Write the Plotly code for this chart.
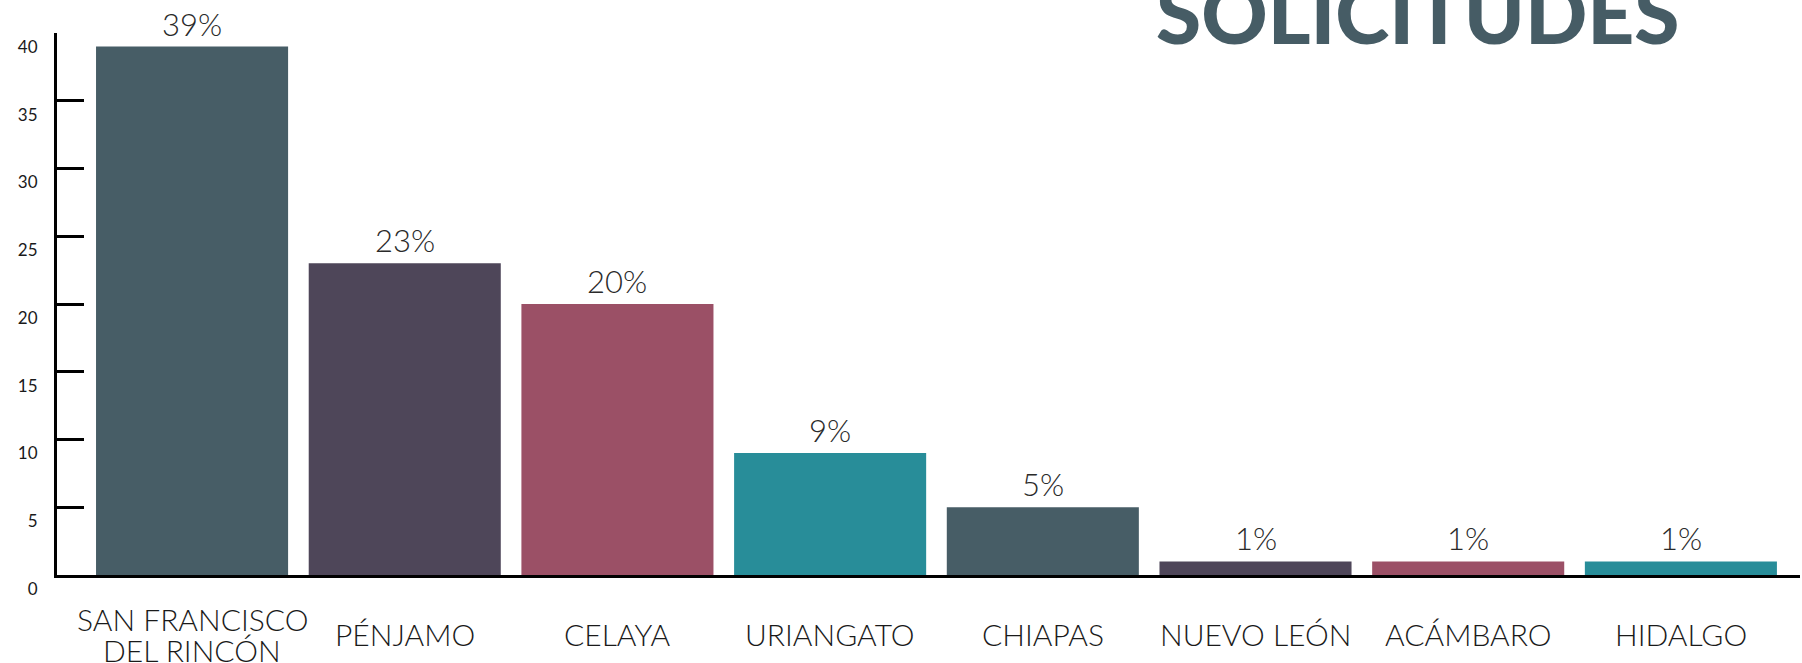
import plotly.graph_objects as go

categories = ["SAN FRANCISCO<br>DEL RINCÓN", "PÉNJAMO", "CELAYA", "URIANGATO",
              "CHIAPAS", "NUEVO LEÓN", "ACÁMBARO", "HIDALGO"]
values = [39, 23, 20, 9, 5, 1, 1, 1]
labels = ["39%", "23%", "20%", "9%", "5%", "1%", "1%", "1%"]
colors = ["#475d66", "#4e4659", "#9b5066", "#288d99",
          "#475d66", "#4e4659", "#9b5066", "#288d99"]
y_ticks = [0, 5, 10, 15, 20, 25, 30, 35, 40]
title_text = "SOLICITUDES"

xpos = list(range(len(categories)))

fig = go.Figure()
fig.add_trace(go.Bar(x=xpos, y=values, marker=dict(color=colors, line=dict(width=0)),
                     hoverinfo="skip"))

annotations = []
for i, (v, t) in enumerate(zip(values, labels)):
    annotations.append(dict(x=i, y=v, xref="x", yref="y", text=t, showarrow=False,
                            yanchor="bottom", yshift=2,
                            font=dict(family="Lato", size=31, color="#2a2a2a", weight=300)))
for i, c in enumerate(categories):
    lines = c.split("<br>")
    n = len(lines)
    for k, ln in enumerate(lines):
        annotations.append(dict(x=i, y=0, xref="x", yref="paper", text=ln, showarrow=False,
                                yanchor="middle", yshift=-59 - (k - (n - 1) / 2) * 31,
                                borderpad=0,
                                font=dict(family="Lato", size=30, color="#1a1a1a", weight=300)))
annotations.append(dict(x=(1682 - 57) / 1743, y=1, xref="paper", yref="paper",
                        text=title_text, showarrow=False, xanchor="right", yanchor="bottom",
                        yshift=-30,
                        font=dict(family="Lato", size=82, color="#465c65", weight=900)))

fig.update_layout(
    width=1802, height=663,
    margin=dict(l=57, r=2, t=33, b=88),
    paper_bgcolor="white", plot_bgcolor="white",
    bargap=0.097,
    showlegend=False,
    annotations=annotations,
)
fig.update_xaxes(range=[-0.635, 7.56], showticklabels=False, showgrid=False, zeroline=False,
                 showline=True, linecolor="black", linewidth=3, ticks="")
fig.update_yaxes(range=[0, 40], tickvals=y_ticks, showgrid=False, zeroline=False,
                 showline=True, linecolor="black", linewidth=3,
                 ticks="inside", ticklen=27, tickwidth=3, tickcolor="black",
                 ticklabelshift=14, ticklabelstandoff=13,
                 tickfont=dict(family="Lato", size=17, color="#1a1a1a"))

fig.write_html("out.html", config={"displayModeBar": False},
               post_script="document.body.style.margin='0';document.body.style.overflow='hidden';")
